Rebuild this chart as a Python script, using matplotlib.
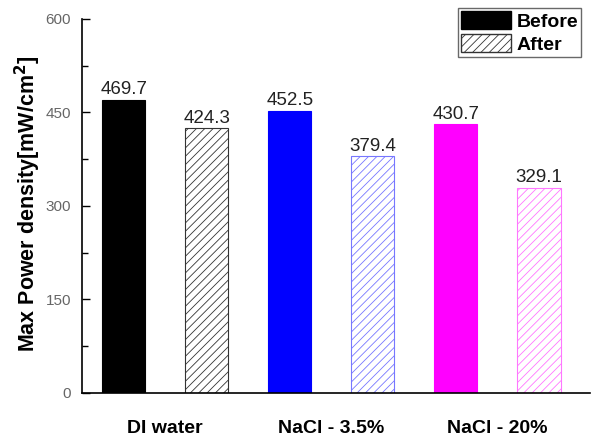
import numpy as np
import matplotlib
matplotlib.use('Agg')
import matplotlib.pyplot as plt
from matplotlib.patches import Patch

groups = ['DI water', 'NaCl - 3.5%', 'NaCl - 20%']
before = [469.7, 452.5, 430.7]
after = [424.3, 379.4, 329.1]
colors = ['#000000', '#0000ff', '#ff00ff']
after_edges = ['#333333', '#7777ff', '#ff77ff']

plt.rcParams['font.family'] = ['Liberation Sans', 'DejaVu Sans']
plt.rcParams['hatch.linewidth'] = 0.6

fig = plt.figure(figsize=(5.91, 4.41), dpi=100)
ax = fig.add_axes([0.139, 0.109, 0.86, 0.848])

w = 0.52
for i in range(len(groups)):
    xb, xa = 2 * i, 2 * i + 1
    ax.bar(xb, before[i], w, color=colors[i], edgecolor=colors[i], lw=0.8)
    ax.bar(xa, after[i], w, color='white', edgecolor=after_edges[i],
           hatch='////', lw=0.8)
    ax.text(xb, before[i] + 3, f'{before[i]:.1f}', ha='center', va='bottom',
            fontsize=13.5, color='#222222')
    ax.text(xa, after[i] + 3, f'{after[i]:.1f}', ha='center', va='bottom',
            fontsize=13.5, color='#222222')
    ax.text(2 * i + 0.5, -57, groups[i], ha='center', va='center',
            fontsize=14, fontweight='bold')

ax.set_xlim(-0.5, 5.62)
ax.set_ylim(0, 600)
ax.set_yticks([0, 150, 300, 450, 600])
ax.set_yticks(np.arange(75, 600, 150), minor=True)
ax.set_xticks([])
ax.tick_params(axis='y', which='major', direction='in', length=6, width=1,
               labelsize=11, labelcolor='#666666', pad=8)
ax.tick_params(axis='y', which='minor', direction='in', length=4, width=1)
for s in ['top', 'right']:
    ax.spines[s].set_visible(False)
for s in ['left', 'bottom']:
    ax.spines[s].set_linewidth(1.2)

ax.set_ylabel('Max Power density[mW/cm$^\\mathbf{2}$]', fontsize=15.5,
              fontweight='bold')
ax.yaxis.set_label_coords(-0.078, 0.505)

handles = [Patch(facecolor='black', edgecolor='black'),
           Patch(facecolor='white', edgecolor='#333333', hatch='////')]
leg = ax.legend(handles, ['Before', 'After'], loc='upper right',
                bbox_to_anchor=(0.99, 1.04), fancybox=False, edgecolor='#444444',
                prop={'weight': 'bold', 'size': 14}, handlelength=2.6,
                handleheight=1.1, handletextpad=0.3, borderpad=0.15,
                labelspacing=0.15, borderaxespad=0.2)
leg.get_frame().set_linewidth(1.0)

fig.savefig('out.png', dpi=100)
